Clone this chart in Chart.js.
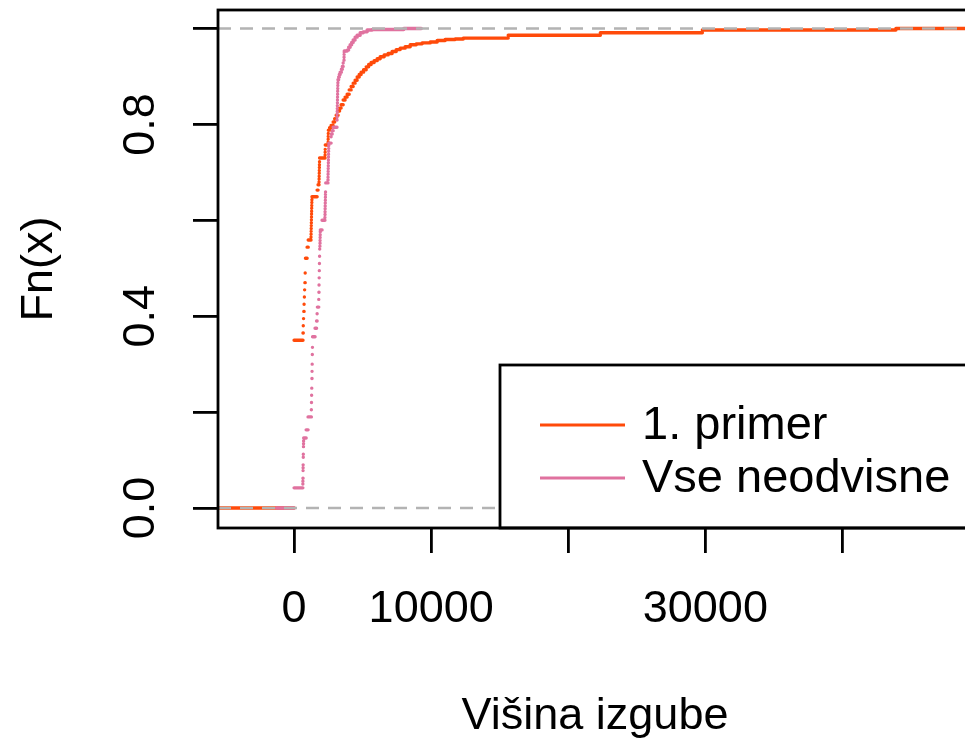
<!DOCTYPE html>
<html>
<head>
<meta charset="utf-8">
<script src="https://cdn.jsdelivr.net/npm/chart.js@4/dist/chart.umd.min.js"></script>
<style>
  html, body { margin: 0; padding: 0; background: #fff; overflow: hidden; }
  #wrap { position: absolute; left: 0; top: 0; width: 1000px; height: 744px; }
  canvas { filter: blur(0.4px); }
</style>
</head>
<body>
<div id="wrap"><canvas id="c" width="1000" height="744"></canvas></div>
<script>
// skoki empirične porazdelitve (x = višina izgube, F = Fn(x) po skoku)
const orangeX = [0, 650, 670, 690, 710, 730, 750, 770, 790, 810, 830, 950, 1030,
  1235, 1240, 1245, 1250, 1255, 1260, 1265, 1270, 1275, 1280, 1285, 1290, 1295, 1300, 1305,
  1680, 1750,
  1820, 1825, 1830, 1835, 1840, 1845, 1850, 1855, 1860,
  2260, 2265, 2270, 2275,
  2480, 2485, 2490, 2495, 2500,
  2590, 2700, 2850, 2960, 3070, 3210, 3320, 3430, 3580, 3720, 3870, 4020, 4160, 4310,
  4450, 4600, 4750, 4890, 5070, 5260, 5440, 5620, 5840, 6060, 6280, 6570, 6860, 7150,
  7450, 7740, 8100, 8470, 8910, 9340, 9930, 10440, 11020, 11750, 12340, 15620, 22340,
  29780, 43900]
const orangeF = [0.350, 0.365, 0.380, 0.395, 0.410, 0.425, 0.440, 0.455, 0.470, 0.490, 0.521, 0.544, 0.559,
  0.565, 0.571, 0.577, 0.583, 0.589, 0.595, 0.601, 0.607, 0.613, 0.619, 0.625, 0.631, 0.637, 0.643, 0.649,
  0.663, 0.674,
  0.680, 0.686, 0.692, 0.698, 0.704, 0.710, 0.716, 0.722, 0.730,
  0.736, 0.742, 0.748, 0.757,
  0.763, 0.769, 0.775, 0.781, 0.788,
  0.793, 0.798, 0.805, 0.812, 0.819, 0.828, 0.834, 0.841, 0.851, 0.857, 0.863, 0.872, 0.879, 0.886,
  0.892, 0.899, 0.904, 0.909, 0.914, 0.920, 0.925, 0.929, 0.933, 0.937, 0.941, 0.945, 0.948, 0.952,
  0.956, 0.959, 0.962, 0.966, 0.968, 0.970, 0.972, 0.975, 0.977, 0.978, 0.980, 0.986, 0.991,
  0.997, 1.0]

const pinkX = [0, 640, 643, 646, 655, 658, 661, 670, 673, 685, 690, 695, 700, 880, 1020,
  1260, 1270, 1280, 1290, 1300, 1310, 1320, 1330, 1340, 1350, 1530, 1640, 1680, 1700,
  1800, 1810, 1820, 1830, 1840, 1850, 1860, 1870,
  1885, 1890, 1895, 1900, 1905, 1910, 1915, 2040,
  2250, 2255, 2260, 2265, 2270, 2275, 2280, 2285, 2290, 2295, 2310,
  2470, 2475, 2480, 2485, 2490, 2495, 2500, 2505, 2510, 2515, 2520, 2525, 2530, 2535,
  2700, 2720, 2780, 2850,
  3130, 3135, 3140, 3145, 3150, 3155, 3160, 3165, 3170, 3175, 3180, 3185, 3190, 3195, 3200,
  3250, 3300, 3360, 3450, 3520, 3580, 3640, 3645, 3650, 3655, 3660,
  3870, 3980, 4090, 4200, 4310, 4450, 4600, 4820, 5040, 5330, 5700, 8000]
const pinkF = [0.042, 0.050, 0.056, 0.062, 0.078, 0.084, 0.090, 0.106, 0.112, 0.128, 0.134, 0.140, 0.146, 0.163, 0.190,
  0.205, 0.220, 0.235, 0.250, 0.270, 0.285, 0.300, 0.320, 0.335, 0.357, 0.375, 0.390, 0.405, 0.419,
  0.435, 0.450, 0.465, 0.480, 0.495, 0.510, 0.525, 0.540,
  0.546, 0.552, 0.558, 0.564, 0.570, 0.576, 0.580, 0.600,
  0.606, 0.612, 0.618, 0.624, 0.630, 0.636, 0.642, 0.648, 0.654, 0.659, 0.678,
  0.684, 0.690, 0.696, 0.702, 0.708, 0.714, 0.720, 0.726, 0.732, 0.738, 0.744, 0.750, 0.756, 0.761,
  0.774, 0.780, 0.787, 0.794,
  0.809, 0.815, 0.821, 0.827, 0.833, 0.839, 0.845, 0.851, 0.857, 0.863, 0.869, 0.875, 0.881, 0.887, 0.893,
  0.899, 0.904, 0.909, 0.915, 0.921, 0.928, 0.934, 0.940, 0.946, 0.951, 0.953,
  0.955, 0.961, 0.966, 0.971, 0.976, 0.982, 0.986, 0.991, 0.993, 0.997, 0.998, 1.0]

// kje se vodoravni krajni odseki začnejo / končajo
const orangeSpan = [-7000, 51000]
const pinkSpan = [-1280, 9280]

const xRange = [-5550, 49450]
const yRange = [-0.0417, 1.0386]
const xTicks = [0, 10000, 20000, 30000, 40000]
const xTickLabels = ['0', '10000', '', '30000', '']
const yTicks = [0, 0.2, 0.4, 0.6, 0.8, 1.0]
const yTickLabels = ['0.0', '', '0.4', '', '0.8', '']
const refLevels = [0, 1]
const seriesNames = ['1. primer', 'Vse neodvisne']

const ORANGE = '#FF4A0A'
const PINK = '#E0729F'
const FONT = 'Liberation Sans, Arial, sans-serif'
const LW = 3.4

// kot plot.ecdf v R: samo vodoravni odseki, brez navpičnic
function stepSegments(xs, fs, span) {
  const pts = [{ x: span[0], y: 0 }, { x: xs[0], y: 0 }, { x: xs[0], y: null }]
  for (let i = 0; i < xs.length; i++) {
    const next = i + 1 < xs.length ? xs[i + 1] : span[1]
    pts.push({ x: xs[i], y: fs[i] }, { x: next, y: fs[i] }, { x: next, y: null })
  }
  return pts
}

function refSegments() {
  const pts = []
  refLevels.forEach(v => {
    pts.push({ x: xRange[0], y: v }, { x: xRange[1], y: v }, { x: xRange[1], y: null })
  })
  return pts
}

const frameAndLegend = {
  id: 'frameAndLegend',
  afterDatasetsDraw(chart) {
    const { ctx, chartArea: a } = chart
    ctx.save()
    // legenda spodaj desno
    const lx = 500, ly = 365
    ctx.fillStyle = '#fff'
    ctx.fillRect(lx, ly, a.right - lx, a.bottom - ly)
    ctx.strokeStyle = '#000'
    ctx.lineWidth = 2.8
    ctx.strokeRect(lx, ly, a.right - lx, a.bottom - ly)
    const rows = [[ORANGE, 425], [PINK, 478]]
    ctx.font = '47px ' + FONT
    ctx.textBaseline = 'middle'
    ctx.textAlign = 'left'
    rows.forEach(([col, y], i) => {
      ctx.strokeStyle = col
      ctx.lineWidth = 3
      ctx.beginPath()
      ctx.moveTo(540, y)
      ctx.lineTo(625, y)
      ctx.stroke()
      ctx.fillStyle = '#000'
      ctx.fillText(seriesNames[i], 642, y + 1)
    })
    // okvir grafa
    ctx.strokeStyle = '#000'
    ctx.lineWidth = 2.8
    ctx.strokeRect(a.left, a.top, a.right - a.left, a.bottom - a.top)
    ctx.restore()
  }
}

function noMargins(s) {
  s.paddingTop = 0
  s.paddingBottom = 0
  s.paddingLeft = 0
  s.paddingRight = 0
}

new Chart(document.getElementById('c'), {
  type: 'line',
  data: {
    datasets: [
      {
        label: 'ref',
        data: refSegments(),
        borderColor: '#B3B3B3',
        borderWidth: 2.6,
        borderDash: [13, 9],
        order: 0,
      },
      {
        label: seriesNames[1],
        data: stepSegments(pinkX, pinkF, pinkSpan),
        borderColor: PINK,
        borderWidth: LW,
        borderCapStyle: 'round',
        order: 1,
      },
      {
        label: seriesNames[0],
        data: stepSegments(orangeX, orangeF, orangeSpan),
        borderColor: ORANGE,
        borderWidth: LW,
        borderCapStyle: 'round',
        order: 2,
      },
    ],
  },
  options: {
    responsive: false,
    animation: false,
    devicePixelRatio: 1,
    spanGaps: false,
    layout: { padding: { left: 0, top: 10, right: 28, bottom: 0 } },
    elements: { point: { radius: 0 }, line: { tension: 0, fill: false } },
    datasets: { line: { clip: 0 } },
    plugins: { legend: { display: false }, tooltip: { enabled: false } },
    scales: {
      x: {
        type: 'linear',
        min: xRange[0],
        max: xRange[1],
        afterBuildTicks: s => { s.ticks = xTicks.map(v => ({ value: v })) },
        afterFit: s => { s.height = 216; noMargins(s) },
        grid: { drawOnChartArea: false, drawTicks: true, tickLength: 25, color: '#000', lineWidth: 2.8 },
        border: { display: false },
        ticks: {
          autoSkip: false,
          maxRotation: 0,
          minRotation: 0,
          padding: 30,
          color: '#000',
          font: { family: FONT, size: 45 },
          callback: (v, i) => xTickLabels[i],
        },
        title: {
          display: true,
          text: 'Višina izgube',
          color: '#000',
          font: { family: FONT, size: 45 },
          padding: { top: 0, bottom: 0 },
        },
      },
      y: {
        type: 'linear',
        min: yRange[0],
        max: yRange[1],
        afterBuildTicks: s => { s.ticks = yTicks.map(v => ({ value: v })) },
        afterFit: s => { s.width = 218; noMargins(s) },
        grid: { drawOnChartArea: false, drawTicks: true, tickLength: 25, color: '#000', lineWidth: 2.8 },
        border: { display: false },
        ticks: {
          autoSkip: false,
          minRotation: 90,
          maxRotation: 90,
          crossAlign: 'center',
          padding: 20,
          color: '#000',
          font: { family: FONT, size: 45 },
          callback: (v, i) => yTickLabels[i],
        },
        title: {
          display: true,
          text: 'Fn(x)',
          color: '#000',
          font: { family: FONT, size: 45 },
          padding: { top: 13, bottom: 0 },
        },
      },
    },
  },
  plugins: [frameAndLegend],
})
</script>
</body>
</html>
